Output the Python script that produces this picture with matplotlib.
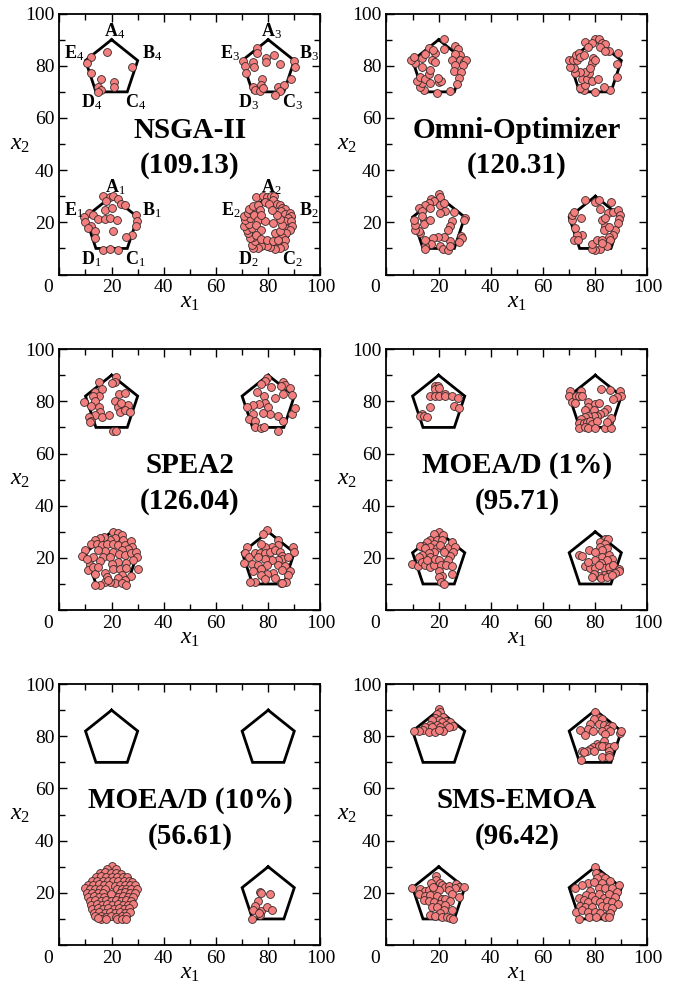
import numpy as np
import matplotlib
matplotlib.use('Agg')
import matplotlib.pyplot as plt
from matplotlib.transforms import ScaledTranslation

plt.rcParams['font.family'] = 'Liberation Serif'
plt.rcParams['mathtext.fontset'] = 'custom'
plt.rcParams['mathtext.rm'] = 'Liberation Serif'
plt.rcParams['mathtext.it'] = 'Liberation Serif:italic'
plt.rcParams['mathtext.bf'] = 'Liberation Serif:bold'

# pentagon shape (offsets from centre) and centres
pent_dx = [0, 10, 6, -6, -10]
pent_dy = [10, 2, -10, -10, 2]
centres = [(20, 20), (80, 20), (80, 80), (20, 80)]
vertex_names = ['A', 'B', 'C', 'D', 'E']

titles = ['NSGA-II', 'Omni-Optimizer', 'SPEA2', 'MOEA/D (1%)', 'MOEA/D (10%)', 'SMS-EMOA']
scores = ['109.13', '120.31', '126.04', '95.71', '56.61', '96.42']

nsga2_pts = [
    # top-left
    (18.3, 85.4), (12.3, 83.4), (10.4, 80.9), (12.3, 77.3), (15.9, 74.9), (21.0, 73.9),
    (20.9, 71.7), (14.6, 71.7), (15.9, 70.9), (14.9, 69.8), (27.9, 79.6),
    # top-right
    (75.8, 86.9), (75.7, 85.0), (82.3, 84.1), (79.1, 83.1), (79.0, 81.3), (84.7, 80.6),
    (70.3, 81.9), (74.0, 81.5), (74.5, 79.6), (71.1, 79.9), (71.4, 77.3), (90.0, 81.9),
    (90.2, 79.4), (88.7, 75.1), (77.6, 74.8), (77.4, 72.6), (74.1, 72.0), (74.9, 70.7),
    (76.8, 70.3), (78.1, 71.3), (83.8, 72.0), (86.1, 72.5), (84.5, 70.3), (82.6, 68.8),
    # bottom-left
    (16.8, 30.0), (19.4, 29.6), (20.6, 30.2), (22.3, 29.1), (17.7, 28.0), (23.6, 27.0),
    (25.1, 26.8), (17.4, 24.9), (20.0, 25.5), (11.4, 23.6), (12.8, 22.7), (9.5, 21.9),
    (14.9, 21.4), (17.4, 21.3), (19.4, 21.7), (22.2, 21.0), (29.2, 22.9), (29.6, 20.4),
    (29.2, 18.7), (9.8, 20.0), (12.3, 18.5), (10.8, 17.8), (13.6, 16.6), (13.6, 14.0),
    (20.6, 16.6), (27.9, 15.3), (25.7, 14.4), (16.8, 9.3), (19.4, 9.8), (22.3, 9.5),
    # bottom-right
    (75.5, 29.6), (78.1, 30.0), (79.7, 29.6), (81.0, 30.2), (82.3, 30.0), (81.9, 28.4),
    (78.7, 27.7), (80.4, 27.2), (83.2, 27.2), (84.5, 26.8), (85.4, 25.5), (86.6, 25.1),
    (84.9, 24.2), (86.4, 23.3), (88.3, 23.6), (88.9, 22.3), (87.4, 21.7), (86.6, 20.4),
    (88.7, 20.4), (89.2, 18.7), (86.4, 17.8), (88.3, 17.2), (87.0, 15.9), (85.4, 14.4),
    (86.6, 13.1), (83.8, 11.4), (86.1, 10.8), (84.5, 10.0), (82.6, 9.8), (80.6, 10.4),
    (79.4, 11.1), (77.4, 10.8), (76.2, 10.0), (74.3, 10.2), (73.6, 11.4), (74.9, 12.7),
    (74.3, 14.4), (73.0, 14.0), (72.3, 15.9), (71.7, 17.2), (73.6, 17.8), (70.8, 18.7),
    (72.6, 19.5), (71.1, 20.8), (73.0, 21.7), (70.8, 22.3), (72.1, 23.6), (73.6, 24.2),
    (72.6, 25.1), (74.3, 26.1), (76.2, 26.8), (76.8, 24.9), (74.6, 22.9), (76.2, 21.0),
    (75.5, 19.1), (77.2, 17.2), (75.5, 15.3), (77.4, 13.6), (79.4, 13.4), (81.9, 12.7),
    (83.8, 13.4), (82.6, 15.9), (84.5, 16.6), (85.4, 19.1), (84.5, 21.3), (83.2, 22.9),
    (81.3, 24.9), (78.8, 20.4), (81.9, 19.7), (77.4, 22.9),
]

omni_pts = [
    # top-left
    (22.2, 90.1), (18.7, 85.0), (16.2, 86.7), (17.7, 86.0), (21.9, 86.3), (26.1, 87.5),
    (27.4, 86.3), (28.2, 84.1), (26.4, 84.5), (25.1, 82.2), (28.3, 82.2), (29.6, 81.5),
    (30.5, 82.2), (29.2, 80.3), (26.4, 80.3), (25.7, 78.1), (28.7, 77.7), (27.9, 75.4),
    (27.0, 73.0), (24.5, 70.4), (19.4, 69.4), (14.3, 70.9), (13.0, 71.7), (13.6, 73.5),
    (11.7, 74.1), (13.0, 75.8), (14.6, 74.8), (16.8, 73.5), (20.0, 73.9), (21.0, 74.1),
    (19.7, 75.5), (16.2, 76.7), (16.5, 78.3), (13.6, 79.6), (11.1, 80.9), (9.5, 82.4),
    (10.6, 83.4), (13.6, 82.8), (17.6, 82.2), (18.5, 81.5), (14.9, 84.7),
    # top-right
    (76.2, 89.2), (79.7, 90.2), (81.3, 90.2), (82.6, 88.6), (83.8, 88.3), (81.9, 87.3),
    (78.7, 88.6), (77.4, 87.3), (85.1, 85.7), (83.8, 85.6), (88.7, 85.0), (88.3, 80.6),
    (88.3, 75.8), (85.5, 70.7), (83.4, 71.7), (79.7, 70.0), (75.5, 70.7), (74.3, 71.3),
    (76.2, 72.6), (74.9, 74.8), (76.8, 75.1), (77.7, 77.1), (76.2, 77.7), (74.3, 77.7),
    (72.3, 77.1), (71.9, 79.0), (70.4, 79.4), (69.8, 82.2), (71.4, 82.4), (72.9, 82.2),
    (72.6, 84.1), (73.6, 85.0), (74.3, 83.4), (75.5, 84.1), (79.1, 82.8), (78.7, 80.9),
    (80.0, 82.4), (78.1, 79.0), (78.7, 74.3), (81.0, 75.1),
    # bottom-left
    (20.0, 31.0), (20.6, 29.7), (17.2, 28.9), (18.4, 28.0), (16.2, 27.4), (14.9, 26.8),
    (12.3, 25.5), (13.6, 24.5), (16.8, 25.5), (20.6, 26.8), (21.9, 27.4), (22.6, 24.2),
    (20.6, 23.6), (25.7, 23.8), (30.2, 21.7), (29.6, 21.0), (25.1, 20.4), (24.5, 18.7),
    (23.6, 17.2), (28.7, 14.9), (29.0, 14.0), (27.9, 12.3), (24.5, 12.7), (22.0, 14.4),
    (19.7, 14.4), (17.7, 14.0), (17.0, 11.8), (14.6, 10.8), (14.6, 9.9), (20.6, 10.8),
    (21.5, 9.8), (23.6, 9.5), (24.5, 10.8), (14.9, 13.4), (13.0, 15.9), (12.3, 16.6),
    (10.8, 17.2), (11.1, 19.1), (10.4, 21.0), (14.3, 21.0), (14.3, 19.5), (13.6, 22.3),
    (16.5, 21.0),
    # bottom-right
    (76.2, 28.4), (79.7, 27.8), (81.3, 28.4), (86.1, 27.7), (81.9, 25.1), (84.9, 23.6),
    (86.6, 23.8), (88.7, 24.9), (89.6, 22.9), (89.2, 21.3), (88.7, 19.7), (87.7, 17.2),
    (86.6, 15.3), (85.4, 14.4), (83.8, 18.5), (82.6, 20.8), (83.2, 17.2), (85.1, 18.2),
    (85.7, 13.4), (84.5, 10.8), (81.9, 9.8), (80.0, 9.5), (78.7, 9.8), (78.7, 11.8),
    (80.6, 13.4), (82.6, 13.4), (82.6, 12.0), (74.9, 15.3), (73.0, 15.3), (71.7, 13.4),
    (73.3, 13.4), (72.3, 17.8), (71.1, 21.0), (71.1, 22.9), (71.7, 23.8), (74.6, 21.7),
    (83.8, 21.7),
]

spea2_pts = [
    # top-left
    (21.7, 89.4), (21.3, 87.3), (20.0, 86.9), (15.1, 87.5), (13.6, 83.7), (16.2, 84.7),
    (15.1, 81.9), (13.0, 82.2), (13.6, 80.3), (12.3, 78.3), (9.6, 79.6), (15.1, 77.7),
    (15.5, 75.8), (13.6, 74.8), (11.4, 74.1), (12.3, 72.6), (16.4, 73.9), (19.0, 74.8),
    (21.3, 80.3), (22.8, 82.8), (25.1, 83.1), (22.3, 77.7), (25.1, 78.1), (26.4, 78.6),
    (23.2, 75.8), (25.1, 76.7), (27.0, 75.8), (23.6, 79.4), (20.6, 68.8), (21.7, 68.8),
    (11.7, 72.0),
    # top-right
    (79.7, 88.9), (78.7, 87.9), (77.2, 86.6), (81.0, 85.4), (85.7, 87.5), (86.3, 86.3),
    (85.0, 85.7), (88.3, 85.0), (89.2, 82.4), (85.7, 82.8), (82.6, 81.1), (75.7, 83.4),
    (78.3, 81.9), (78.7, 79.4), (76.4, 78.9), (74.3, 78.5), (71.7, 77.7), (80.0, 77.7),
    (80.6, 75.1), (83.8, 74.5), (85.5, 72.6), (89.2, 75.1), (90.1, 77.3), (74.3, 75.1),
    (72.6, 73.2), (75.1, 72.6), (75.1, 70.0), (77.4, 69.6), (78.5, 70.3), (83.8, 68.8),
    (78.1, 75.5),
    # bottom-left
    (20.6, 30.0), (22.6, 29.6), (23.8, 28.9), (24.5, 26.8), (21.3, 27.7), (19.4, 26.8),
    (17.2, 28.0), (15.5, 27.8), (13.6, 27.0), (12.3, 25.5), (14.3, 25.5), (16.2, 24.9),
    (18.1, 25.5), (20.6, 25.5), (22.6, 24.9), (25.1, 24.9), (27.4, 26.4), (27.9, 24.2),
    (26.4, 23.3), (23.8, 22.9), (20.6, 22.3), (17.4, 22.6), (14.9, 22.9), (9.8, 22.9),
    (8.6, 20.8), (13.0, 20.4), (16.8, 20.4), (19.4, 20.4), (22.8, 21.3), (25.1, 21.0),
    (27.4, 21.7), (29.2, 22.3), (29.6, 20.4), (28.3, 19.1), (25.7, 18.2), (22.6, 18.5),
    (20.0, 17.8), (15.5, 18.7), (11.7, 17.2), (10.8, 15.3), (13.0, 16.6), (13.6, 14.0),
    (17.4, 14.4), (18.1, 12.7), (20.6, 15.9), (23.2, 15.7), (25.7, 16.2), (27.4, 13.1),
    (30.2, 15.9), (23.8, 13.4), (22.6, 12.3), (25.1, 11.4), (21.3, 10.2), (23.8, 10.5),
    (25.5, 9.5), (19.4, 10.8), (17.4, 10.8), (15.5, 9.8), (13.6, 9.8), (18.7, 11.4),
    (10.4, 19.5), (14.9, 16.6),
    # bottom-right
    (79.4, 30.6), (78.1, 29.3), (83.8, 26.8), (83.6, 25.1), (81.3, 24.2), (78.7, 24.2),
    (77.2, 25.5), (71.7, 24.2), (71.1, 21.7), (70.7, 18.2), (72.6, 20.4), (74.9, 21.7),
    (76.8, 21.7), (78.7, 21.7), (80.6, 22.3), (82.6, 22.9), (84.5, 22.3), (85.4, 20.8),
    (85.4, 19.7), (89.6, 24.2), (90.0, 22.3), (87.7, 20.4), (83.8, 19.1), (81.3, 19.1),
    (78.7, 19.5), (75.9, 20.4), (73.6, 17.8), (76.2, 17.2), (79.4, 17.2), (77.4, 15.9),
    (83.8, 17.2), (86.4, 16.9), (88.3, 14.9), (87.4, 13.6), (85.1, 15.3), (81.9, 14.4),
    (79.4, 14.0), (77.4, 13.4), (82.6, 12.3), (78.7, 12.1), (87.0, 10.8), (84.9, 10.4),
    (85.4, 10.4), (74.9, 10.8), (73.0, 10.8), (74.3, 14.9),
]

moead1_pts = [
    # top-left
    (18.5, 86.0), (19.7, 85.7), (18.7, 84.7), (20.0, 85.0), (16.8, 81.9), (18.5, 81.9),
    (20.0, 81.9), (22.3, 82.8), (22.3, 81.9), (25.1, 81.9), (27.4, 81.3), (25.7, 78.1),
    (27.9, 77.4), (16.6, 77.7), (13.6, 75.1), (12.7, 74.5), (14.3, 74.5), (15.5, 73.9),
    # top-right
    (70.4, 84.1), (74.6, 84.1), (82.3, 84.7), (85.5, 84.3), (89.5, 83.8), (90.0, 81.9),
    (88.3, 81.5), (86.6, 80.9), (70.0, 81.9), (71.1, 79.9), (72.8, 81.9), (73.9, 81.9),
    (75.1, 81.9), (77.2, 79.9), (72.3, 79.4), (80.0, 79.0), (81.5, 79.4), (77.4, 77.7),
    (76.2, 76.7), (79.4, 76.7), (84.5, 77.1), (83.2, 75.8), (81.9, 75.1), (80.6, 74.5),
    (79.4, 74.3), (77.4, 74.5), (76.2, 73.9), (74.6, 73.2), (73.6, 71.7), (75.5, 71.7),
    (76.8, 72.0), (78.1, 72.6), (78.7, 71.3), (80.6, 72.6), (73.9, 69.8), (75.9, 70.1),
    (77.4, 69.8), (79.7, 69.8), (83.8, 69.8), (86.1, 69.8), (85.1, 72.6), (86.1, 73.5),
    (84.5, 71.9),
    # bottom-left
    (20.0, 30.0), (18.1, 29.3), (21.7, 28.7), (16.8, 26.8), (19.4, 26.8), (21.3, 26.8),
    (15.5, 26.1), (18.1, 25.5), (16.8, 24.2), (13.9, 24.5), (12.8, 24.5), (14.9, 23.6),
    (19.4, 23.6), (20.6, 24.9), (22.3, 22.9), (23.8, 24.2), (25.1, 26.1), (26.3, 24.2),
    (25.4, 22.3), (24.5, 20.8), (23.6, 19.1), (21.9, 22.3), (18.1, 22.3), (16.2, 21.7),
    (13.6, 21.0), (12.3, 20.4), (9.6, 17.8), (12.1, 16.9), (13.6, 18.5), (14.9, 17.2),
    (16.8, 16.6), (18.1, 17.2), (16.8, 20.4), (18.7, 19.7), (20.0, 19.1), (21.0, 17.2),
    (22.8, 17.2), (25.1, 16.9), (20.0, 14.9), (21.3, 13.1), (20.0, 12.7), (21.0, 10.8),
    (21.9, 9.9), (25.1, 14.0), (15.5, 19.1),
    # bottom-right
    (83.6, 27.4), (84.9, 27.4), (81.7, 26.1), (83.8, 25.5), (81.9, 24.2), (84.5, 23.6),
    (82.6, 22.9), (77.7, 22.9), (79.7, 22.3), (73.9, 21.0), (74.9, 20.8), (82.6, 20.4),
    (85.4, 21.0), (86.4, 19.7), (84.5, 19.1), (80.0, 19.1), (82.2, 18.2), (75.9, 16.9),
    (77.9, 16.2), (80.0, 16.2), (83.2, 16.2), (85.1, 16.6), (86.9, 17.4), (88.9, 15.9),
    (89.2, 14.9), (87.6, 14.4), (85.4, 14.0), (83.2, 13.6), (81.3, 13.1), (79.4, 14.0),
    (78.7, 12.7), (82.2, 12.3), (84.5, 12.7), (86.4, 13.4), (77.2, 18.5), (81.3, 17.2),
]

moead10_pts = [
    # bottom-left (dense)
    (20.0, 30.4), (18.4, 29.1), (21.6, 29.0),
    (15.6, 27.6), (17.5, 27.8), (19.6, 27.5), (21.6, 27.7), (23.6, 27.4),
    (14.0, 26.1), (16.1, 26.3), (18.0, 25.9), (20.1, 26.2), (22.1, 26.0), (24.2, 26.2), (25.8, 25.9),
    (12.4, 24.6), (14.5, 24.4), (16.6, 24.7), (18.7, 24.5), (20.6, 24.6), (22.6, 24.4),
    (24.6, 24.7), (26.6, 24.5), (28.0, 24.2),
    (10.8, 23.1), (12.9, 22.9), (15.1, 23.2), (17.0, 23.0), (19.1, 23.1), (21.2, 22.8),
    (23.2, 23.1), (25.1, 22.9), (27.2, 23.0), (29.0, 23.0),
    (9.8, 21.7), (11.7, 21.4), (13.7, 21.6), (15.7, 21.3), (17.6, 21.6), (21.9, 21.5),
    (23.8, 21.4), (25.7, 21.6), (27.6, 21.3), (29.8, 21.6),
    (10.5, 20.0), (12.6, 20.1), (14.6, 19.8), (16.6, 20.1), (23.1, 19.9), (25.0, 20.2),
    (26.9, 19.9), (28.8, 20.1), (19.8, 19.4),
    (11.1, 18.4), (13.2, 18.6), (15.3, 18.3), (17.2, 18.5), (22.4, 18.3), (24.3, 18.6),
    (26.3, 18.4), (28.3, 18.5),
    (11.6, 16.9), (13.7, 17.1), (15.8, 16.8), (17.8, 17.1), (19.8, 17.0), (21.7, 17.2),
    (23.6, 16.9), (25.6, 17.1), (27.6, 16.8),
    (12.2, 15.4), (14.3, 15.6), (16.3, 15.3), (18.3, 15.6), (20.3, 15.4), (22.3, 15.6),
    (24.3, 15.3), (26.3, 15.5), (28.1, 15.6),
    (12.6, 13.9), (14.8, 14.1), (16.8, 13.8), (18.8, 14.1), (20.8, 13.9), (22.8, 14.1),
    (24.8, 13.8), (26.8, 14.0),
    (13.2, 12.4), (15.2, 12.6), (17.3, 12.3), (19.3, 12.6), (21.3, 12.4), (23.3, 12.6),
    (25.3, 12.3), (27.1, 12.5),
    (13.8, 11.0), (15.8, 11.2), (17.8, 10.9), (19.8, 11.1), (21.8, 10.9), (23.8, 11.2), (25.7, 11.0),
    (16.0, 9.8), (18.0, 10.0), (22.0, 9.9), (24.1, 9.8), (25.6, 9.9), (14.6, 10.2),
    # bottom-right
    (76.8, 20.4), (77.4, 20.0), (80.6, 19.5), (76.2, 16.8), (74.9, 14.9), (74.3, 13.4),
    (77.2, 13.1), (76.8, 11.4), (79.4, 14.4), (81.3, 13.4), (73.6, 9.9), (76.4, 12.1),
]

smsemoa_pts = [
    # top-left
    (20.0, 90.5), (20.6, 89.2), (19.4, 88.6), (21.5, 87.5), (18.7, 87.0), (20.0, 86.3),
    (17.4, 86.3), (22.8, 85.7), (24.5, 85.4), (21.3, 85.4), (16.8, 84.5), (19.4, 84.5),
    (22.8, 84.5), (25.4, 84.1), (14.7, 83.4), (17.6, 83.4), (20.6, 83.4), (23.8, 83.4),
    (13.9, 82.4), (12.3, 82.2), (16.4, 81.5), (18.7, 81.5), (21.5, 82.2), (10.4, 81.9),
    (20.0, 82.4),
    # top-right
    (80.0, 89.2), (81.3, 87.0), (79.4, 86.6), (82.6, 86.6), (78.1, 84.7), (81.5, 84.7),
    (83.2, 84.5), (85.4, 84.1), (86.4, 84.1), (84.5, 82.8), (82.6, 82.2), (85.8, 81.9),
    (77.2, 82.8), (74.3, 82.4), (79.1, 81.9), (76.2, 80.3), (89.5, 81.3), (90.0, 81.9),
    (83.6, 80.9), (83.2, 78.3), (83.8, 76.4), (80.6, 77.1), (79.1, 75.8), (81.3, 76.1),
    (82.6, 76.4), (78.1, 75.1), (76.8, 74.5), (74.9, 74.5), (75.5, 73.9), (79.4, 74.3),
    (85.4, 75.8), (87.0, 76.4), (85.4, 74.5), (85.1, 73.0), (82.6, 72.0), (85.4, 72.0),
    (74.5, 70.9),
    # bottom-left
    (19.0, 26.4), (19.0, 24.9), (17.2, 23.6), (20.6, 23.6), (21.3, 22.9), (22.3, 22.3),
    (24.1, 22.6), (26.6, 23.3), (27.9, 22.3), (29.6, 22.3), (26.1, 21.7), (9.6, 21.9),
    (12.7, 21.3), (14.6, 20.8), (16.2, 21.0), (18.1, 21.0), (20.0, 21.0), (23.8, 21.0),
    (25.1, 19.7), (27.9, 18.5), (12.3, 19.5), (14.9, 18.7), (16.8, 19.1), (19.4, 18.7),
    (21.3, 17.8), (22.6, 17.8), (24.5, 16.9), (14.3, 17.2), (16.2, 16.9), (18.4, 16.6),
    (20.6, 15.9), (22.6, 15.3), (17.4, 14.4), (19.4, 14.4), (21.9, 13.6), (25.1, 13.4),
    (20.6, 12.1), (16.5, 11.4), (18.7, 11.1), (21.3, 10.8), (23.2, 10.8), (24.5, 10.5),
    (25.4, 9.9), (17.7, 22.3),
    # bottom-right
    (80.0, 30.0), (80.3, 27.7), (82.3, 26.4), (80.6, 25.5), (83.8, 25.5), (85.7, 24.6),
    (77.4, 23.8), (79.4, 24.2), (82.6, 23.6), (88.9, 22.9), (72.1, 21.7), (74.9, 22.9),
    (81.3, 21.7), (83.8, 21.7), (86.4, 21.7), (88.3, 20.4), (78.1, 20.8), (76.4, 19.1),
    (78.7, 18.7), (81.3, 19.5), (83.2, 18.0), (85.4, 19.5), (87.7, 18.5), (73.6, 18.2),
    (75.5, 17.2), (77.4, 16.6), (79.7, 17.2), (81.9, 16.6), (84.5, 16.9), (86.4, 16.6),
    (88.7, 15.7), (74.3, 14.9), (76.2, 14.6), (78.7, 14.4), (82.6, 14.9), (84.5, 14.4),
    (86.4, 14.0), (72.6, 12.7), (74.9, 13.4), (77.4, 12.7), (80.0, 12.7), (81.9, 12.1),
    (84.5, 11.4), (85.7, 12.1), (73.6, 9.9), (77.7, 10.8), (80.3, 10.8), (83.8, 10.8),
    (85.4, 10.8),
]

all_pts = [nsga2_pts, omni_pts, spea2_pts, moead1_pts, moead10_pts, smsemoa_pts]

tick_vals = [0, 20, 40, 60, 80, 100]
ytick_labels = ['', '20', '40', '60', '80', '100']   # shared corner "0" drawn once

# label offsets for vertex names (relative to pentagon centre)
lab_dx = [1.3, 15.6, 9.2, -7.7, -14.5]
lab_dy = [13.4, 4.7, -14.0, -14.0, 4.7]

fig = plt.figure(figsize=(6.78, 9.84), dpi=100)
lefts = [0.0876, 0.570]
bottoms = [0.721, 0.380, 0.0396]
w, h = 0.385, 0.2652

for i in range(6):
    r, c = divmod(i, 2)
    ax = fig.add_axes([lefts[c], bottoms[r], w, h])

    for cx, cy in centres:
        px = [cx + d for d in pent_dx] + [cx + pent_dx[0]]
        py = [cy + d for d in pent_dy] + [cy + pent_dy[0]]
        ax.plot(px, py, color='black', linewidth=2.0, solid_joinstyle='miter', zorder=2)

    pts = np.array(all_pts[i])
    ax.scatter(pts[:, 0], pts[:, 1], s=32, facecolor='#F27E7E', edgecolor='#3a2a2a',
               linewidth=0.6, zorder=3)

    ax.text(50, 48.5, f'{titles[i]}\n({scores[i]})', ha='center', va='center',
            fontsize=21, fontweight='bold', linespacing=1.4)

    if i == 0:
        for k, (cx, cy) in enumerate(centres):
            for n in range(5):
                ax.text(cx + lab_dx[n], cy + lab_dy[n], r'$\mathbf{%s}_{%d}$' % (vertex_names[n], k + 1),
                        ha='center', va='center', fontsize=13)

    ax.set_xlim(0, 100)
    ax.set_ylim(0, 100)
    ax.set_xticks(tick_vals)
    ax.set_yticks(tick_vals)
    ax.set_yticklabels(ytick_labels)
    ax.set_xticks(range(0, 101, 10), minor=True)
    ax.set_yticks(range(0, 101, 10), minor=True)
    ax.tick_params(which='both', direction='in', top=True, right=True, labelsize=14, width=1.0)
    ax.tick_params(which='major', length=6)
    ax.tick_params(which='minor', length=4)
    for sp in ax.spines.values():
        sp.set_linewidth(1.3)

    # push the corner "0" a little to the left, as in the original
    lbl0 = ax.get_xticklabels()[0]
    lbl0.set_transform(lbl0.get_transform() + ScaledTranslation(-8 / 72, 0, fig.dpi_scale_trans))

    ax.set_xlabel(r'$x_1$', fontsize=17)
    ax.set_ylabel(r'$x_2$', fontsize=17, rotation=0, va='center', ha='center')
    ax.xaxis.set_label_coords(0.5, -0.068)
    ax.yaxis.set_label_coords(-0.15, 0.5)

fig.savefig('out.png', dpi=100)
